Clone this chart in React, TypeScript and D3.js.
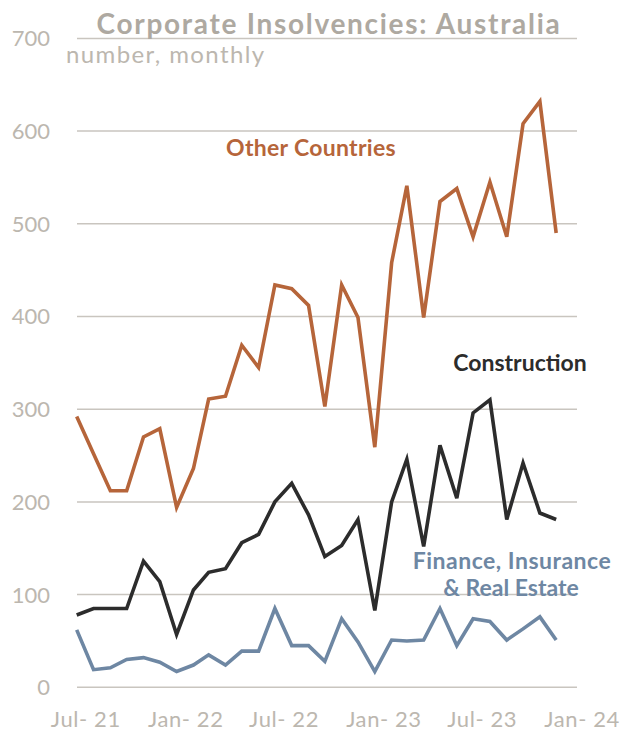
import React from "react";
import * as d3 from "d3";

const months: string[] = [
  "2021-07","2021-08","2021-09","2021-10","2021-11","2021-12",
  "2022-01","2022-02","2022-03","2022-04","2022-05","2022-06",
  "2022-07","2022-08","2022-09","2022-10","2022-11","2022-12",
  "2023-01","2023-02","2023-03","2023-04","2023-05","2023-06",
  "2023-07","2023-08","2023-09","2023-10","2023-11","2023-12",
];
const otherCountries: number[] = [292, 252, 212, 212, 270, 279, 194, 236, 311, 314, 369, 345, 434, 430, 412, 303, 434, 399, 259, 458, 541, 399, 524, 538, 486, 545, 486, 608, 632, 490];
const construction: number[] = [78, 85, 85, 85, 136, 114, 57, 105, 124, 128, 156, 165, 200, 220, 186, 141, 153, 181, 83, 200, 246, 152, 261, 204, 296, 310, 181, 242, 188, 181];
const finance: number[] = [62, 19, 21, 30, 32, 27, 17, 24, 35, 24, 39, 39, 85, 45, 45, 28, 74, 49, 17, 51, 50, 51, 85, 45, 74, 71, 51, 63, 76, 51];
const yTicks: number[] = [0, 100, 200, 300, 400, 500, 600, 700];
const xTickDates: string[] = ["2021-07", "2022-01", "2022-07", "2023-01", "2023-07", "2024-01"];
const xTickLabels: string[] = ["Jul- 21", "Jan- 22", "Jul- 22", "Jan- 23", "Jul- 23", "Jan- 24"];

const W = 621, H = 738;
const FONT = "Lato, 'Open Sans', sans-serif";
const parse = (s: string) => new Date(+s.slice(0, 4), +s.slice(5, 7) - 1, 1);

export default function App() {
  const x = d3.scaleTime().domain([parse("2021-07"), parse("2024-01")]).range([76.7, 573]);
  const y = d3.scaleLinear().domain([0, 700]).range([687.3, 38.4]);
  const dates = months.map(parse);
  const line = d3.line<number>().x((_, i) => x(dates[i])).y((v) => y(v)).curve(d3.curveLinear);
  const series = [
    { vals: otherCountries, color: "#b6653a" },
    { vals: construction, color: "#2c2c2c" },
    { vals: finance, color: "#6e87a3" },
  ];
  const grid = "#c9c5bf";
  const tickColor = "#bcb7af";
  return (
    <svg width={W} height={H} style={{ position: "absolute", left: 0, top: 0, background: "#fff" }}>
      {yTicks.map((t) => (
        <g key={t}>
          <line x1={77} x2={577} y1={y(t)} y2={y(t)} stroke={grid} strokeWidth={1.5} />
          <text x={50} y={y(t)} dy="0.36em" textAnchor="end" fontFamily={FONT} fontSize={22} fill={tickColor}>{t}</text>
        </g>
      ))}
      {xTickDates.map((d, i) => {
        const dt = d3.timeDay.offset(parse(d), 15);
        return (
          <text key={d} x={x(dt) + 1} y={727} textAnchor="middle" fontFamily={FONT} fontSize={22} letterSpacing={0.6} fill={tickColor}>{xTickLabels[i]}</text>
        );
      })}
      {series.map((s, i) => (
        <path key={i} d={line(s.vals) || ""} fill="none" stroke={s.color} strokeWidth={3.6} strokeLinejoin="miter" strokeMiterlimit={4} />
      ))}
      <text x={329} y={34} textAnchor="middle" fontFamily={FONT} fontWeight={700} fontSize={28} letterSpacing={1.7} fill="#aea9a1">Corporate Insolvencies: Australia</text>
      <text x={66} y={63} fontFamily={FONT} fontSize={24} letterSpacing={1.4} fill={tickColor}>number, monthly</text>
      <text x={311} y={156} textAnchor="middle" fontFamily={FONT} fontWeight={700} fontSize={23} letterSpacing={0.3} fill="#b6653a">Other Countries</text>
      <text x={520} y={371} textAnchor="middle" fontFamily={FONT} fontWeight={700} fontSize={23} fill="#2c2c2c">Construction</text>
      <text x={512} y={569} textAnchor="middle" fontFamily={FONT} fontWeight={700} fontSize={23} letterSpacing={0.5} fill="#6e87a3">Finance, Insurance</text>
      <text x={511} y={596} textAnchor="middle" fontFamily={FONT} fontWeight={700} fontSize={23} fill="#6e87a3">&amp; Real Estate</text>
    </svg>
  );
}
